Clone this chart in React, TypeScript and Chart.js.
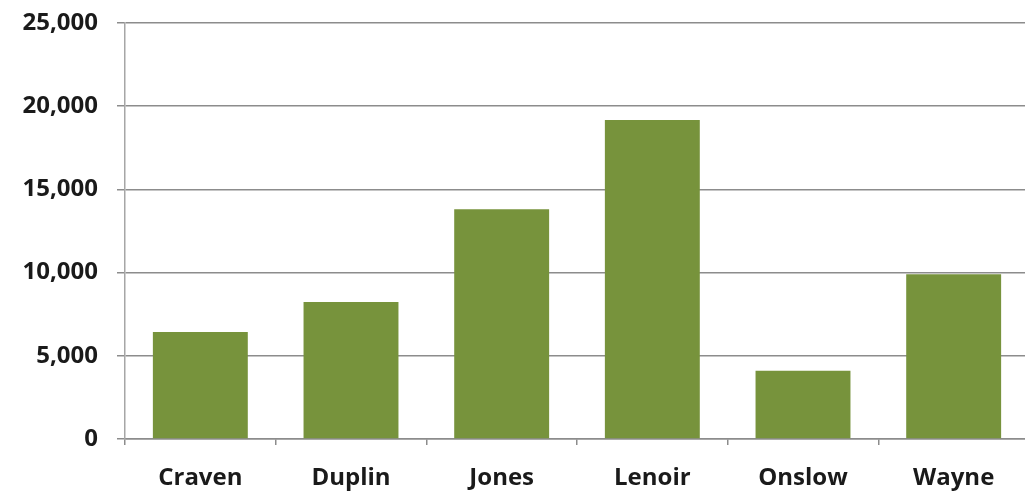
import React, { useEffect, useRef } from "react";
import { Chart, registerables } from "chart.js";

Chart.register(...registerables);

const categories = ["Craven", "Duplin", "Jones", "Lenoir", "Onslow", "Wayne"];
const values = [6430, 8230, 13800, 19170, 4100, 9900];
const yTicks = [0, 5000, 10000, 15000, 20000, 25000];

export default function App() {
  const ref = useRef<HTMLCanvasElement | null>(null);
  useEffect(() => {
    document.body.style.margin = "0";
    document.body.style.overflow = "hidden";
    const ctx = ref.current!;
    const chart = new Chart(ctx, {
      type: "bar",
      data: {
        labels: categories,
        datasets: [
          {
            data: values,
            backgroundColor: "#77933C",
            borderWidth: 0,
            barPercentage: 0.63,
            categoryPercentage: 1,
          },
        ],
      },
      options: {
        animation: false,
        responsive: false,
        maintainAspectRatio: false,
        layout: { padding: { top: 23, right: 1, left: 0, bottom: 0 } },
        plugins: { legend: { display: false }, tooltip: { enabled: false } },
        scales: {
          x: {
            offset: true,
            grid: {
              offset: true,
              drawOnChartArea: false,
              drawTicks: true,
              tickLength: 6,
              color: "#8c8c8c",
              lineWidth: 1.5,
            },
            border: { color: "#8c8c8c", width: 1.5 },
            ticks: {
              color: "#1a1a1a",
              font: { family: "'Open Sans'", size: 24, weight: "bold" },
              padding: 19,
              maxRotation: 0,
            },
            afterFit: (s: any) => {
              s.height = 52;
              s.paddingLeft = 0;
              s.paddingRight = 0;
            },
          },
          y: {
            min: 0,
            max: 25000,
            afterBuildTicks: (s: any) => {
              s.ticks = yTicks.map((v) => ({ value: v }));
            },
            grid: {
              color: "#8c8c8c",
              lineWidth: 1.5,
              tickLength: 8,
            },
            border: { color: "#a6a6a6", width: 1.5 },
            ticks: {
              color: "#1a1a1a",
              font: { family: "'Open Sans'", size: 24, weight: "bold" },
              padding: 19,
              callback: (v: any) => Number(v).toLocaleString("en-US"),
            },
            afterFit: (s: any) => {
              s.width = 125;
              s.paddingTop = 0;
              s.paddingBottom = 0;
            },
          },
        },
      },
    });
    return () => chart.destroy();
  }, []);
  return (
    <div style={{ position: "fixed", left: 0, top: 0, width: 1025, height: 491, overflow: "hidden", background: "#fff" }}>
      <canvas ref={ref} width={1030} height={491} style={{ display: "block", width: 1030, height: 491 }} />
    </div>
  );
}
